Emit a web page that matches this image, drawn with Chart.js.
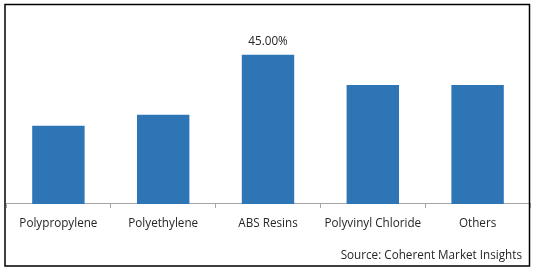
<!DOCTYPE html>
<html>
<head>
<meta charset="utf-8">
<script src="https://cdn.jsdelivr.net/npm/chart.js@4"></script>
<style>
  html, body { margin: 0; padding: 0; background: #fff; }
  #wrap { position: relative; width: 538px; height: 272px; }
</style>
</head>
<body>
<div id="wrap"><canvas id="resinChart" width="538" height="272"></canvas></div>
<script>
// Chart data
const categories = ['Polypropylene', 'Polyethylene', 'ABS Resins', 'Polyvinyl Chloride', 'Others'];
const shares = [23.6, 26.9, 45.0, 35.9, 35.9];
const valueLabels = [null, null, '45.00%', null, null];
const sourceText = 'Source: Coherent Market Insights';

const FONT = '"Open Sans", sans-serif';
const FONT_SIZE = 11.7;

// Frame, source note and the single value label
const decorPlugin = {
    id: 'decor',
    afterDraw(chart) {
        const ctx = chart.ctx;
        ctx.save();
        ctx.strokeStyle = '#000';
        ctx.lineWidth = 1.5;
        ctx.strokeRect(5, 4.5, 524.5, 261.5);

        ctx.fillStyle = '#262626';
        ctx.font = FONT_SIZE + 'px ' + FONT;
        ctx.textBaseline = 'middle';
        ctx.textAlign = 'right';
        ctx.fillText(sourceText, 522, 256);

        const meta = chart.getDatasetMeta(0);
        ctx.textAlign = 'center';
        ctx.textBaseline = 'bottom';
        meta.data.forEach((bar, i) => {
            if (!valueLabels[i]) return;
            ctx.fillText(valueLabels[i], bar.x, bar.y - 7);
        });
        ctx.restore();
    }
};

new Chart(document.getElementById('resinChart'), {
    type: 'bar',
    data: {
        labels: categories,
        datasets: [{
            data: shares,
            backgroundColor: '#2E75B6',
            borderWidth: 0,
            categoryPercentage: 1.0,
            barPercentage: 0.5
        }]
    },
    options: {
        responsive: false,
        animation: false,
        layout: {
            padding: { left: 6, right: 8, top: 5, bottom: 32 }
        },
        plugins: {
            legend: { display: false },
            tooltip: { enabled: false }
        },
        scales: {
            x: {
                grid: {
                    drawOnChartArea: false,
                    drawTicks: true,
                    tickLength: 4,
                    color: '#a6a6a6'
                },
                border: { display: true, color: '#a6a6a6', width: 1 },
                ticks: {
                    color: '#262626',
                    font: { family: FONT, size: FONT_SIZE },
                    padding: 9,
                    maxRotation: 0,
                    autoSkip: false
                }
            },
            y: {
                display: false,
                min: 0,
                max: 60
            }
        }
    },
    plugins: [decorPlugin]
});
</script>
</body>
</html>
